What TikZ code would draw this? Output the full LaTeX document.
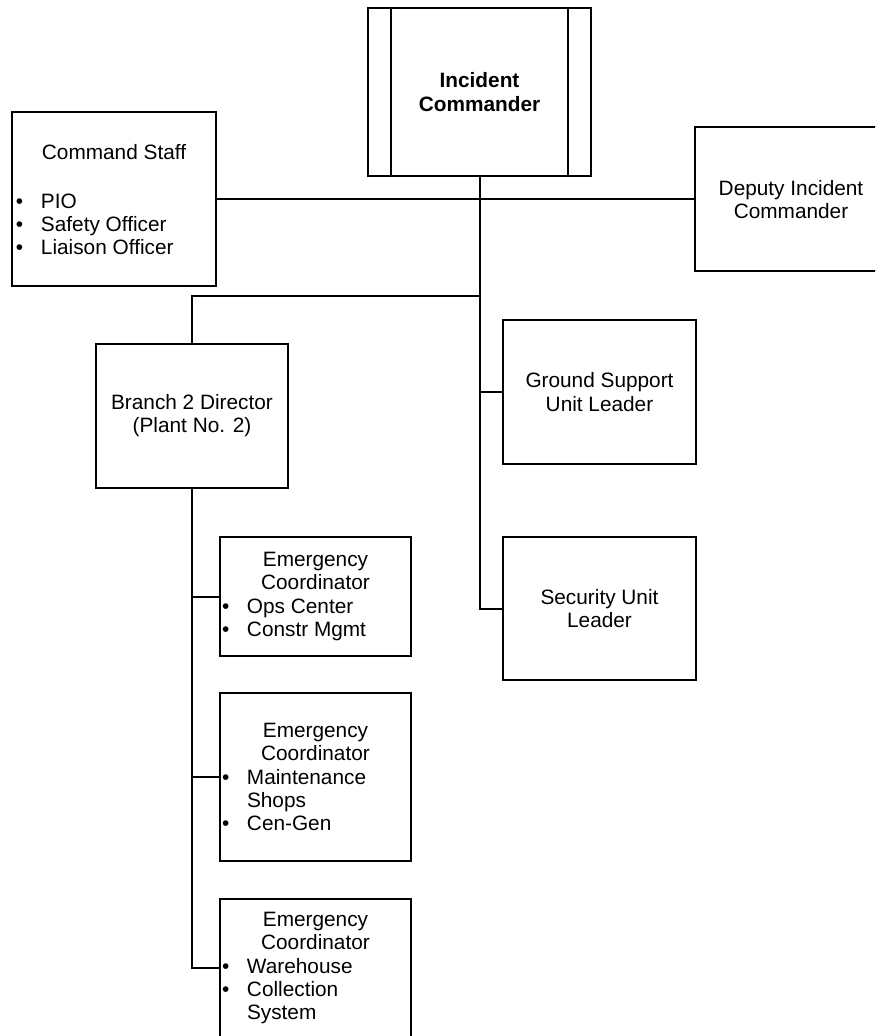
\documentclass[tikz,border=0pt]{standalone}
\usepackage{fontspec}
\setmainfont{Liberation Sans}
\usetikzlibrary{positioning}

\newcommand{\bline}[2]{\makebox[#1][l]{\makebox[12.5pt][l]{\textbullet}#2}}
\newcommand{\contline}[2]{\makebox[#1][l]{\hspace{12.5pt}#2}}

\begin{document}
\begin{tikzpicture}[
        x=0.5pt, y=-0.5pt,
        box/.style={rectangle, draw=black, fill=white, line width=1pt, inner sep=0pt, minimum width=96pt, minimum height=72pt, align=center, font=\fontsize{10.4}{11.6}\selectfont},
        mainbox/.style={box, minimum width=111.5pt, minimum height=84pt, font=\fontsize{10.4}{11.6}\selectfont\bfseries},
        ecbox/.style={box, minimum width=95.5pt},
        link/.style={draw=black, line width=1pt}
    ]
        \clip (0,0) rectangle (875,1036);

        % top of the chart
        \node[mainbox] (ic) at (479.5,92) {Incident\\Commander};
        \draw[line width=1pt] ([xshift=12pt]ic.north west) -- ([xshift=12pt]ic.south west);
        \draw[line width=1pt] ([xshift=-12pt]ic.north east) -- ([xshift=-12pt]ic.south east);

        \node[box, minimum width=102pt, minimum height=87pt] (staff) at (114,199.5) {Command Staff\\[13pt]\bline{98pt}{PIO}\\\bline{98pt}{Safety Officer}\\\bline{98pt}{Liaison Officer}};
        \node[box] (deputy) at (791,199.5) {Deputy Incident\\Commander};

        % branch and units
        \node[box] (branch) at (192,416) {Branch 2 Director\\(Plant No. 2)};
        \node[box, minimum width=96.5pt] (ground) at (599.5,392) {Ground Support\\Unit Leader};
        \node[box, minimum width=96.5pt, minimum height=71.5pt, below=35.5pt of ground] (security) {Security Unit\\Leader};

        % emergency coordinators
        \node[ecbox, minimum height=59.5pt] (ec1) at (315.5,596.5) {Emergency\\Coordinator\\\bline{93.5pt}{Ops Center}\\\bline{93.5pt}{Constr Mgmt}};
        \node[ecbox, minimum height=84pt, below=17.5pt of ec1] (ec2) {Emergency\\Coordinator\\\bline{93.5pt}{Maintenance}\\\contline{93.5pt}{Shops}\\\bline{93.5pt}{Cen-Gen}};
        \node[ecbox, minimum height=69pt, below=18pt of ec2] (ec3) {Emergency\\Coordinator\\\bline{93.5pt}{Warehouse}\\\bline{93.5pt}{Collection}\\\contline{93.5pt}{System}};

        % connectors
        \coordinate (split) at (479.5,296);
        \draw[link] (ic.south) |- (security.west);
        \draw[link] (staff.east) -- (deputy.west);
        \draw[link] (split) -| (branch.north);
        \draw[link] (ground.west) -- (ground.west -| ic.south);
        \draw[link] (branch.south) |- (ec3.west);
        \draw[link] (ec1.west) -- (ec1.west -| branch.south);
        \draw[link] (ec2.west) -- (ec2.west -| branch.south);

    \end{tikzpicture}
\end{document}
